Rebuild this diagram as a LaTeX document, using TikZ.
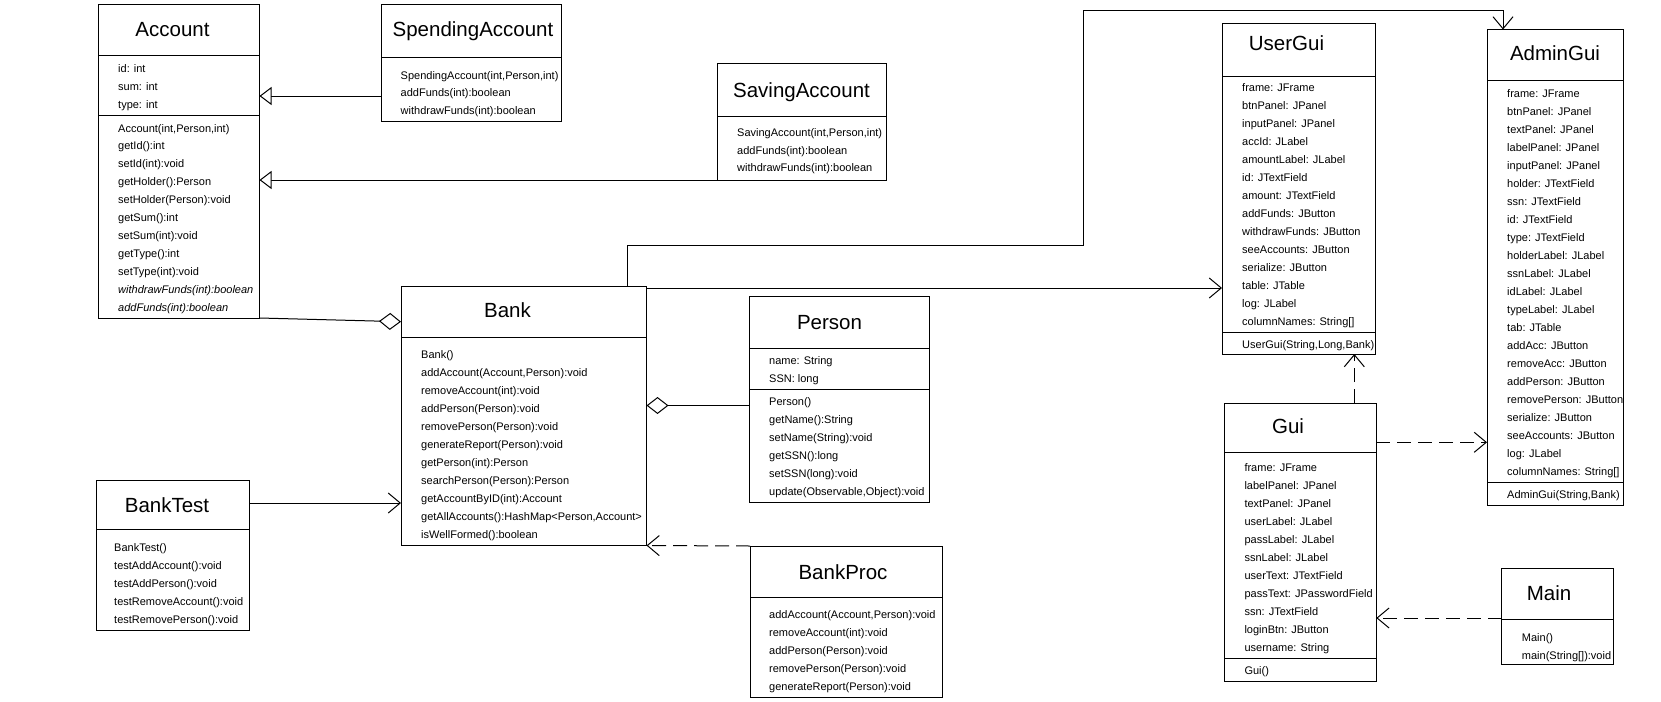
\documentclass[tikz,border=0pt]{standalone}
\usepackage{fontspec}
\setmainfont{Liberation Sans}
\usetikzlibrary{arrows.meta}
\begin{document}
\begin{tikzpicture}[x=1pt,y=-1pt,
  box/.style={draw, line width=1pt, fill=white, inner sep=0pt, outer sep=0pt, anchor=north west},
  ttl/.style={font=\fontsize{20.5}{24}\selectfont, inner sep=0pt, anchor=base},
  itm/.style={font=\fontsize{11}{13}\selectfont, inner sep=0pt, anchor=base west},
  sepline/.style={line width=1pt},
  conn/.style={line width=1pt},
  dsh/.style={line width=1pt, dash pattern=on 14pt off 7pt},
  gen/.style={-{Triangle[open,length=12pt,width=18pt,fill=white]}},
  dep/.style={-{Straight Barb[length=12pt,width=20pt]}},
  agg/.style={{Diamond[open,length=22pt,width=17pt,fill=white]}-},
]
\useasboundingbox[fill=white] (0,0) rectangle (1661,701);

% ---------- Account ----------
\node[box, minimum width=161pt, minimum height=313.5pt] (account) at (98.5,4.5) {};
\draw[sepline] (98.5,56) -- (259.5,56);
\draw[sepline] (98.5,115.5) -- (259.5,115.5);
\node[ttl] (accountT) at (172.5,37) {Account};
\foreach \t [count=\i from 0] in {{id: int},{sum: int},{type: int}}
  \node[itm] (accountA\i) at (118,72.3+\i*18) {\t};
\foreach \t [count=\i from 0] in {{Account(int,Person,int)},{getId():int},{setId(int):void},{getHolder():Person},{setHolder(Person):void},{getSum():int},{setSum(int):void},{getType():int},{setType(int):void},{\itshape withdrawFunds(int):boolean},{\itshape addFunds(int):boolean}}
  \node[itm] (accountM\i) at (118,132+\i*17.9) {\t};

% ---------- SpendingAccount ----------
\node[box, minimum width=180.5pt, minimum height=116.5pt] (spend) at (381,4.5) {};
\draw[sepline] (381,57.5) -- (561.5,57.5);
\node[ttl] (spendT) at (473,37) {SpendingAccount};
\foreach \t [count=\i from 0] in {{SpendingAccount(int,Person,int)},{addFunds(int):boolean},{withdrawFunds(int):boolean}}
  \node[itm] (spendM\i) at (400.5,79+\i*17.7) {\t};

% ---------- SavingAccount ----------
\node[box, minimum width=169pt, minimum height=116.5pt] (saving) at (717,63.5) {};
\draw[sepline] (717,116) -- (886,116);
\node[ttl] (savingT) at (801.5,97) {SavingAccount};
\foreach \t [count=\i from 0] in {{SavingAccount(int,Person,int)},{addFunds(int):boolean},{withdrawFunds(int):boolean}}
  \node[itm] (savingM\i) at (737,136.3+\i*17.7) {\t};

% ---------- Bank ----------
\node[box, minimum width=245.5pt, minimum height=259.5pt] (bank) at (401,286) {};
\draw[sepline] (401,337.5) -- (646.5,337.5);
\node[ttl] (bankT) at (507.5,317) {Bank};
\foreach \t [count=\i from 0] in {{Bank()},{addAccount(Account,Person):void},{removeAccount(int):void},{addPerson(Person):void},{removePerson(Person):void},{generateReport(Person):void},{getPerson(int):Person},{searchPerson(Person):Person},{getAccountByID(int):Account},{getAllAccounts():HashMap<Person,Account>},{isWellFormed():boolean}}
  \node[itm] (bankM\i) at (421,358+\i*18) {\t};

% ---------- Person ----------
\node[box, minimum width=180pt, minimum height=206pt] (person) at (749,296) {};
\draw[sepline] (749,348.5) -- (929,348.5);
\draw[sepline] (749,389) -- (929,389);
\node[ttl] (personT) at (829.5,329) {Person};
\foreach \t [count=\i from 0] in {{name: String},{SSN: long}}
  \node[itm] (personA\i) at (769,364+\i*18) {\t};
\foreach \t [count=\i from 0] in {{Person()},{getName():String},{setName(String):void},{getSSN():long},{setSSN(long):void},{update(Observable,Object):void}}
  \node[itm] (personM\i) at (769,405+\i*18) {\t};

% ---------- BankTest ----------
\node[box, minimum width=153pt, minimum height=150.5pt] (banktest) at (96,480) {};
\draw[sepline] (96,529) -- (249,529);
\node[ttl] (banktestT) at (167,512) {BankTest};
\foreach \t [count=\i from 0] in {{BankTest()},{testAddAccount():void},{testAddPerson():void},{testRemoveAccount():void},{testRemovePerson():void}}
  \node[itm] (banktestM\i) at (114,551.3+\i*18) {\t};

% ---------- BankProc ----------
\node[box, minimum width=192pt, minimum height=151pt] (bankproc) at (750,546) {};
\draw[sepline] (750,597) -- (942,597);
\node[ttl] (bankprocT) at (843,579) {BankProc};
\foreach \t [count=\i from 0] in {{addAccount(Account,Person):void},{removeAccount(int):void},{addPerson(Person):void},{removePerson(Person):void},{generateReport(Person):void}}
  \node[itm] (bankprocM\i) at (769,618+\i*18) {\t};

% ---------- UserGui ----------
\node[box, minimum width=153.5pt, minimum height=330.7pt] (usergui) at (1222,23.3) {};
\draw[sepline] (1222,76) -- (1375.5,76);
\draw[sepline] (1222,332.5) -- (1375.5,332.5);
\node[ttl] (userguiT) at (1286.5,50.5) {UserGui};
\foreach \t [count=\i from 0] in {{frame: JFrame},{btnPanel: JPanel},{inputPanel: JPanel},{accId: JLabel},{amountLabel: JLabel},{id: JTextField},{amount: JTextField},{addFunds: JButton},{withdrawFunds: JButton},{seeAccounts: JButton},{serialize: JButton},{table: JTable},{log: JLabel},{columnNames: String[]}}
  \node[itm] (userguiA\i) at (1242,91.3+\i*18) {\t};
\node[itm] (userguiM0) at (1242,348) {UserGui(String,Long,Bank)};

% ---------- AdminGui ----------
\node[box, minimum width=136.3pt, minimum height=475.5pt] (admingui) at (1487,29.5) {};
\draw[sepline] (1487,80.5) -- (1623.3,80.5);
\draw[sepline] (1487,482.5) -- (1623.3,482.5);
\node[ttl] (adminguiT) at (1555,60.5) {AdminGui};
\foreach \t [count=\i from 0] in {{frame: JFrame},{btnPanel: JPanel},{textPanel: JPanel},{labelPanel: JPanel},{inputPanel: JPanel},{holder: JTextField},{ssn: JTextField},{id: JTextField},{type: JTextField},{holderLabel: JLabel},{ssnLabel: JLabel},{idLabel: JLabel},{typeLabel: JLabel},{tab: JTable},{addAcc: JButton},{removeAcc: JButton},{addPerson: JButton},{removePerson: JButton},{serialize: JButton},{seeAccounts: JButton},{log: JLabel},{columnNames: String[]}}
  \node[itm] (adminguiA\i) at (1507,97.3+\i*18) {\t};
\node[itm] (adminguiM0) at (1507,498.3) {AdminGui(String,Bank)};

% ---------- Gui ----------
\node[box, minimum width=151.6pt, minimum height=278.3pt] (gui) at (1224.7,403) {};
\draw[sepline] (1224.7,452) -- (1376.3,452);
\draw[sepline] (1224.7,658.5) -- (1376.3,658.5);
\node[ttl] (guiT) at (1288,433.7) {Gui};
\foreach \t [count=\i from 0] in {{frame: JFrame},{labelPanel: JPanel},{textPanel: JPanel},{userLabel: JLabel},{passLabel: JLabel},{ssnLabel: JLabel},{userText: JTextField},{passText: JPasswordField},{ssn: JTextField},{loginBtn: JButton},{username: String}}
  \node[itm] (guiA\i) at (1244.3,471.3+\i*18) {\t};
\node[itm] (guiM0) at (1244.3,674.7) {Gui()};

% ---------- Main ----------
\node[box, minimum width=111.6pt, minimum height=95.3pt] (main) at (1501.7,568.7) {};
\draw[sepline] (1501.7,619) -- (1613.3,619);
\node[ttl] (mainT) at (1549,600) {Main};
\foreach \t [count=\i from 0] in {{Main()},{main(String[]):void}}
  \node[itm] (mainM\i) at (1521.7,641.3+\i*18) {\t};

% ---------- connectors ----------
\draw[conn,gen] (spend.west |- 0,96) -- (account.east |- 0,96);
\draw[conn,gen] (saving.south west) -- (account.east |- saving.south west);
\draw[conn,agg] (bank.west |- 0,321.7) -- (account.south east);
\draw[conn,agg] (bank.east |- 0,405.5) -- (person.west |- 0,405.5);
\draw[conn,dep] (banktest.east |- 0,503) -- (bank.west |- 0,503);
\draw[dsh,dep] (bankproc.north west) -- (bank.south east);
\draw[conn,dep] (bank.east |- 0,288) -- (usergui.west |- 0,288);
\coordinate (b1) at (627,245);
\coordinate (b2) at (1083,245);
\coordinate (b3) at (1083,10.6);
\coordinate (b4) at (1503,10.6);
\draw[conn,dep] (bank.north -| b1) -- (b1) -- (b2) -- (b3) -- (b4) -- (admingui.north -| b4);
\draw[dsh,dep] (gui.north -| 1354.3,0) -- (usergui.south -| 1354.3,0);
\draw[dsh,dep] (gui.east |- 0,442.3) -- (admingui.west |- 0,442.3);
\draw[dsh,dep] (main.west |- 0,618) -- (gui.east |- 0,618);
\end{tikzpicture}
\end{document}
